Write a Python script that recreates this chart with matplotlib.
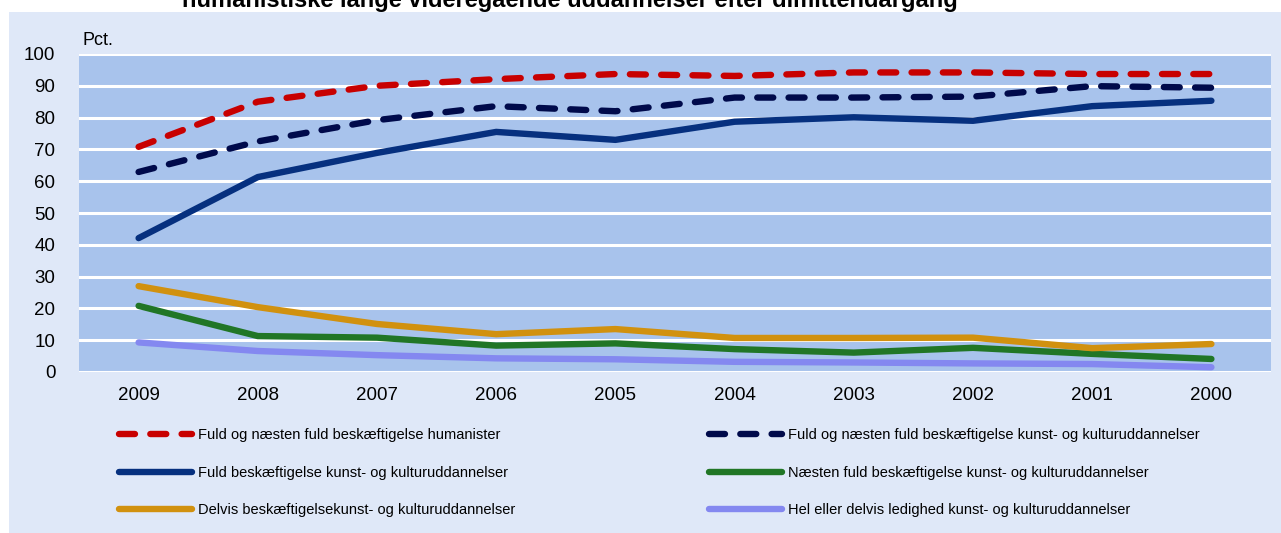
import matplotlib.pyplot as plt
from matplotlib.patches import Rectangle

plt.rcParams['font.family'] = ['Liberation Sans', 'DejaVu Sans']

# Data
years = ['2009', '2008', '2007', '2006', '2005', '2004', '2003', '2002', '2001', '2000']
humanister = [70.8, 85, 90, 92.1, 93.7, 93.1, 94.2, 94.2, 93.7, 93.7]
kunst_fuld_naesten = [62.9, 72.5, 79.2, 83.6, 82, 86.3, 86.3, 86.6, 89.9, 89.4]
kunst_fuld = [42.1, 61.3, 68.9, 75.5, 73, 78.7, 80.1, 79, 83.6, 85.3]
kunst_naesten = [20.8, 11.3, 10.8, 8.3, 9.0, 7.2, 6.1, 7.6, 5.7, 4.1]
kunst_delvis = [27, 20.4, 15.1, 11.9, 13.5, 10.7, 10.7, 10.8, 7.5, 8.8]
kunst_ledig = [9.3, 6.6, 5.3, 4.3, 4.0, 3.2, 3.0, 2.7, 2.5, 1.5]

labels = ['Fuld og næsten fuld beskæftigelse humanister',
          'Fuld og næsten fuld beskæftigelse kunst- og kulturuddannelser',
          'Fuld beskæftigelse kunst- og kulturuddannelser',
          'Næsten fuld beskæftigelse kunst- og kulturuddannelser',
          'Delvis beskæftigelsekunst- og kulturuddannelser',
          'Hel eller delvis ledighed kunst- og kulturuddannelser']

fig = plt.figure(figsize=(12.81, 5.33), dpi=100)
fig.patch.set_facecolor('white')
bg = Rectangle((9 / 1281, 0), 1 - 9 / 1281, 1 - 12 / 533,
               transform=fig.transFigure, facecolor='#dfe8f8',
               edgecolor='none', zorder=-5)
fig.add_artist(bg)

ax = fig.add_axes([79 / 1281, 1 - 372 / 533, 1192 / 1281, 318 / 533])
ax.set_facecolor('#a8c3ec')
x = list(range(len(years)))

lw = 4.6
l1, = ax.plot(x, humanister, color='#c80000', lw=lw, dashes=(2.5, 2.4),
              dash_capstyle='round', solid_capstyle='round')
l2, = ax.plot(x, kunst_fuld_naesten, color='#000a4b', lw=lw, dashes=(2.5, 2.4),
              dash_capstyle='round', solid_capstyle='round')
l3, = ax.plot(x, kunst_fuld, color='#06307f', lw=lw, solid_capstyle='round')
l4, = ax.plot(x, kunst_naesten, color='#217626', lw=lw, solid_capstyle='round')
l5, = ax.plot(x, kunst_delvis, color='#d1910f', lw=lw, solid_capstyle='round')
l6, = ax.plot(x, kunst_ledig, color='#8488f0', lw=lw, solid_capstyle='round')

ax.set_xlim(-0.5, 9.5)
ax.set_ylim(0, 100)
ax.set_yticks(range(0, 101, 10))
ax.set_xticks(x)
ax.set_xticklabels(years)
ax.tick_params(length=0, labelsize=13.5)
ax.tick_params(axis='y', pad=17)
ax.tick_params(axis='x', pad=11)
ax.grid(axis='y', color='white', lw=2.2)
ax.set_axisbelow(True)
for s in ax.spines.values():
    s.set_visible(False)

ax.text(0.003, 1.015, 'Pct.', transform=ax.transAxes, fontsize=13, va='bottom', ha='left')

fig.text(570 / 1281, 1 - 7 / 533, 'humanistiske lange videregående uddannelser efter dimittendårgang',
         ha='center', va='baseline', fontsize=17, fontweight='bold')

leg_kw = dict(loc='upper left', frameon=False, fontsize=10.5, handlelength=5.0,
              handletextpad=0.4, labelspacing=1.6, borderpad=0)
fig.legend([l1, l3, l5], [labels[0], labels[2], labels[4]],
           bbox_to_anchor=(112 / 1281, 1 - 421 / 533), **leg_kw)
fig.legend([l2, l4, l6], [labels[1], labels[3], labels[5]],
           bbox_to_anchor=(702 / 1281, 1 - 421 / 533), **leg_kw)

fig.savefig('out.png', dpi=100)
